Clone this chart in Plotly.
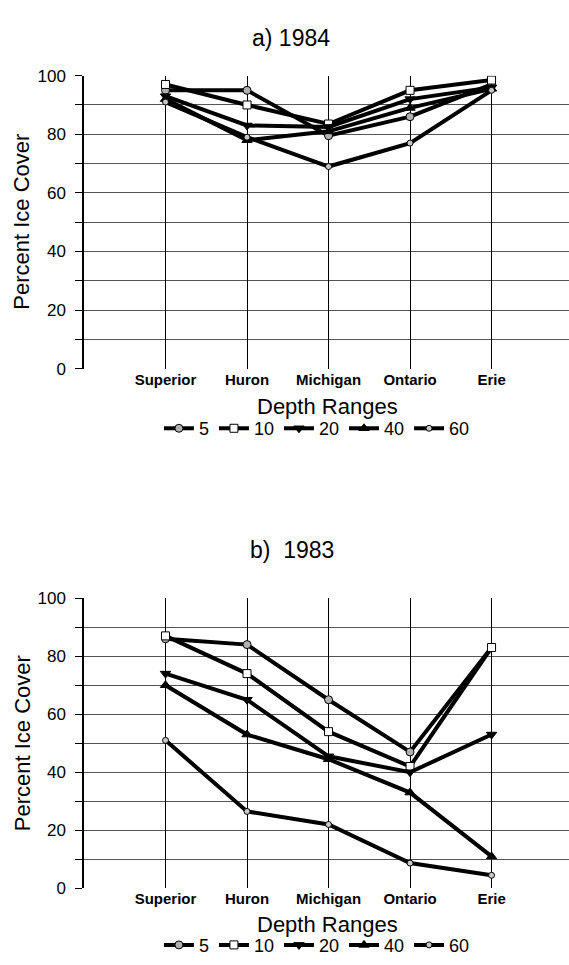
import plotly.graph_objects as go

lakes = ["Superior", "Huron", "Michigan", "Ontario", "Erie"]
depths = ["5", "10", "20", "40", "60"]
y_ticks = [0, 20, 40, 60, 80, 100]
grid_vals = [10, 20, 30, 40, 50, 60, 70, 80, 90, 100]

ice_1984_5 = [95, 95, 79.5, 86, 97]
ice_1984_10 = [97, 90, 83.5, 95, 98.5]
ice_1984_20 = [93, 83, 82.5, 92, 96]
ice_1984_40 = [92, 78, 81, 89, 95.5]
ice_1984_60 = [91, 79, 69, 77, 95]

ice_1983_5 = [86, 84, 65, 47, 83]
ice_1983_10 = [87, 74, 54, 42, 83]
ice_1983_20 = [74, 65, 45.5, 40, 53]
ice_1983_40 = [70, 53, 44.5, 33, 11]
ice_1983_60 = [51, 26.5, 22, 8.7, 4.5]

series_1984 = [ice_1984_5, ice_1984_10, ice_1984_20, ice_1984_40, ice_1984_60]
series_1983 = [ice_1983_5, ice_1983_10, ice_1983_20, ice_1983_40, ice_1983_60]

W, H = 569, 965
FONT = "Liberation Sans, Arial, Helvetica, sans-serif"

markers = [
    dict(symbol="circle", size=8, color="#b0b0b0", line=dict(color="black", width=1)),
    dict(symbol="square", size=8, color="white", line=dict(color="black", width=1)),
    dict(symbol="triangle-down", size=9, color="black", line=dict(color="black", width=1)),
    dict(symbol="triangle-up", size=9, color="black", line=dict(color="black", width=1)),
    dict(symbol="circle", size=6, color="#c8c8c8", line=dict(color="black", width=1)),
]

xpos = list(range(1, len(lakes) + 1))

fig = go.Figure()
for i, d in enumerate(depths):
    fig.add_trace(go.Scatter(x=xpos, y=series_1984[i], mode="lines+markers", name=d,
                             line=dict(color="black", width=4), marker=markers[i],
                             xaxis="x", yaxis="y", legend="legend"))
for i, d in enumerate(depths):
    fig.add_trace(go.Scatter(x=xpos, y=series_1983[i], mode="lines+markers", name=d,
                             line=dict(color="black", width=4), marker=markers[i],
                             xaxis="x2", yaxis="y2", legend="legend2"))

def py(px):
    return 1 - px / H

xdom = [84 / W, 1.0]
top_dom = [py(367), py(68)]
bot_dom = [py(897), py(601)]

xaxis_common = dict(
    range=[0, 5.95], domain=xdom, tickmode="array", tickvals=xpos,
    ticktext=["<b>%s</b>" % l for l in lakes], showgrid=True, gridcolor="black",
    gridwidth=1, showline=False, zeroline=False, ticks="",
    tickfont=dict(family=FONT, size=15, color="black"), fixedrange=True,
)
yaxis_common = dict(
    range=[0, 100], tickmode="array", tickvals=y_ticks,
    ticktext=[str(v) for v in y_ticks], showgrid=False, zeroline=False,
    showline=True, linecolor="black", linewidth=1.5, ticks="outside", ticklen=7,
    tickcolor="black", tickfont=dict(family=FONT, size=17, color="black"),
    ticklabelstandoff=6,
    minor=dict(tickmode="array", tickvals=grid_vals, showgrid=True, gridcolor="#555555",
               gridwidth=1, ticks="outside", ticklen=7, tickcolor="black"),
    fixedrange=True,
)

fig.update_layout(
    width=W, height=H, margin=dict(l=0, r=0, t=0, b=0),
    paper_bgcolor="white", plot_bgcolor="white",
    font=dict(family=FONT, color="black"),
    xaxis=dict(**xaxis_common, anchor="y"),
    yaxis=dict(**yaxis_common, domain=top_dom, anchor="x"),
    xaxis2=dict(**xaxis_common, anchor="y2"),
    yaxis2=dict(**yaxis_common, domain=bot_dom, anchor="x2"),
    legend=dict(orientation="h", x=0.557, xanchor="center", y=py(428), yanchor="middle",
                font=dict(family=FONT, size=18), bgcolor="rgba(0,0,0,0)",
                itemwidth=30, tracegroupgap=0),
    legend2=dict(orientation="h", x=0.557, xanchor="center", y=py(955), yanchor="middle",
                 font=dict(family=FONT, size=18), bgcolor="rgba(0,0,0,0)",
                 itemwidth=30, tracegroupgap=0),
    showlegend=True,
)

ann = [
    dict(text="a) 1984", x=291 / W, y=py(30)),
    dict(text="b)  1983", x=292 / W, y=py(552)),
    dict(text="Depth Ranges", x=327 / W, y=py(405), size=22),
    dict(text="Depth Ranges", x=327 / W, y=py(934), size=22),
]
for a in ann:
    fig.add_annotation(text=a["text"], x=a["x"], y=a["y"], xref="paper", yref="paper",
                       xanchor="center", yanchor="middle", showarrow=False,
                       font=dict(family=FONT, size=a.get("size", 23), color="black"))
for yc in [217, 749]:
    fig.add_annotation(text="Percent Ice Cover", x=22 / W, y=py(yc), xref="paper", yref="paper",
                       xanchor="center", yanchor="middle", showarrow=False, textangle=-90,
                       font=dict(family=FONT, size=22, color="black"))

fig.write_html("out.html")
